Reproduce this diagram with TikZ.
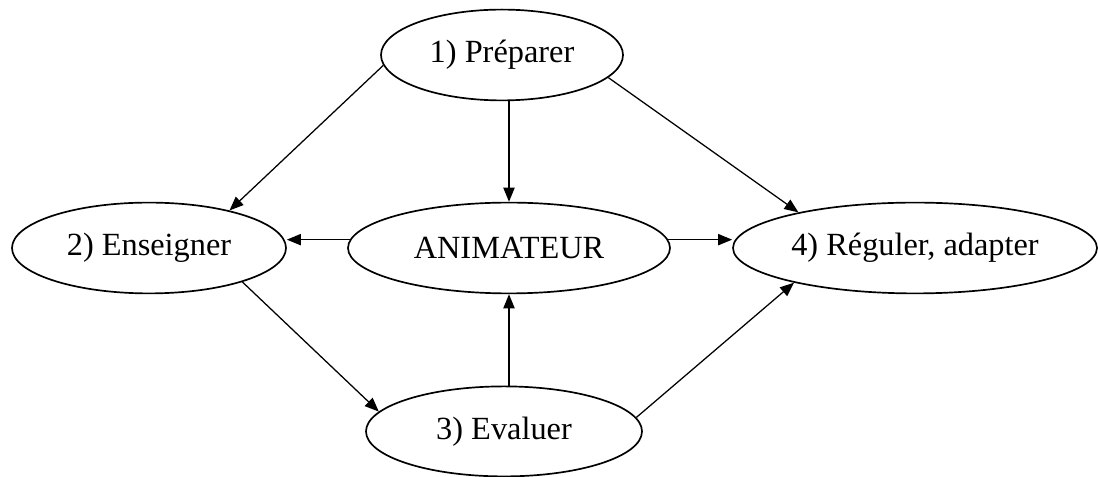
\documentclass[tikz,border=0pt]{standalone}
\usepackage{fontspec}
\setmainfont{Liberation Serif}
\usepackage{tikz}
\usetikzlibrary{positioning, calc, shapes.geometric, shapes, arrows.meta}
\tikzstyle{Arrow} = [
line width=0.9pt,
-{Triangle[length=10pt,width=8pt]}]
\tikzstyle{Bubble} = [
ellipse, draw, line width=1.2pt, inner sep=0pt,
minimum height=2.27cm,
font=\fontsize{23}{27}\selectfont]

\begin{document}
\begin{tikzpicture}
    \useasboundingbox (0,0) rectangle (27.45,11.925);
    \node [Bubble, minimum width=6.05cm] (1) at (12.55,10.55) {1) Préparer};
    \node [Bubble, minimum width=6.85cm] (2) at (3.725,5.725) {2) Enseigner};
    \node [Bubble, minimum width=8.05cm] (3) at (12.725,5.725) {ANIMATEUR};
    \node [Bubble, minimum width=9.1cm] (4) at (22.875,5.725) {4) Réguler, adapter};
    \node [Bubble, minimum width=6.9cm, minimum height=2.25cm] (5) at (12.6,1.14) {3) Evaluer};

    \draw[Arrow] (1.185) -- (2.25);
    \draw[Arrow] (3 |- 1.south) -- (3.north);
    \draw[Arrow] (1.-12) -- (4.163);
    \draw[Arrow] (3.177) -- (3.177 -| 2.east);
    \draw[Arrow] (3.3) -- (3.3 -| 4.west);
    \draw[Arrow] (2.-20) -- (5.171);
    \draw[Arrow] (3 |- 5.north) -- (3.south);
    \draw[Arrow] (5.6) -- (4.196);
\end{tikzpicture}
\end{document}
